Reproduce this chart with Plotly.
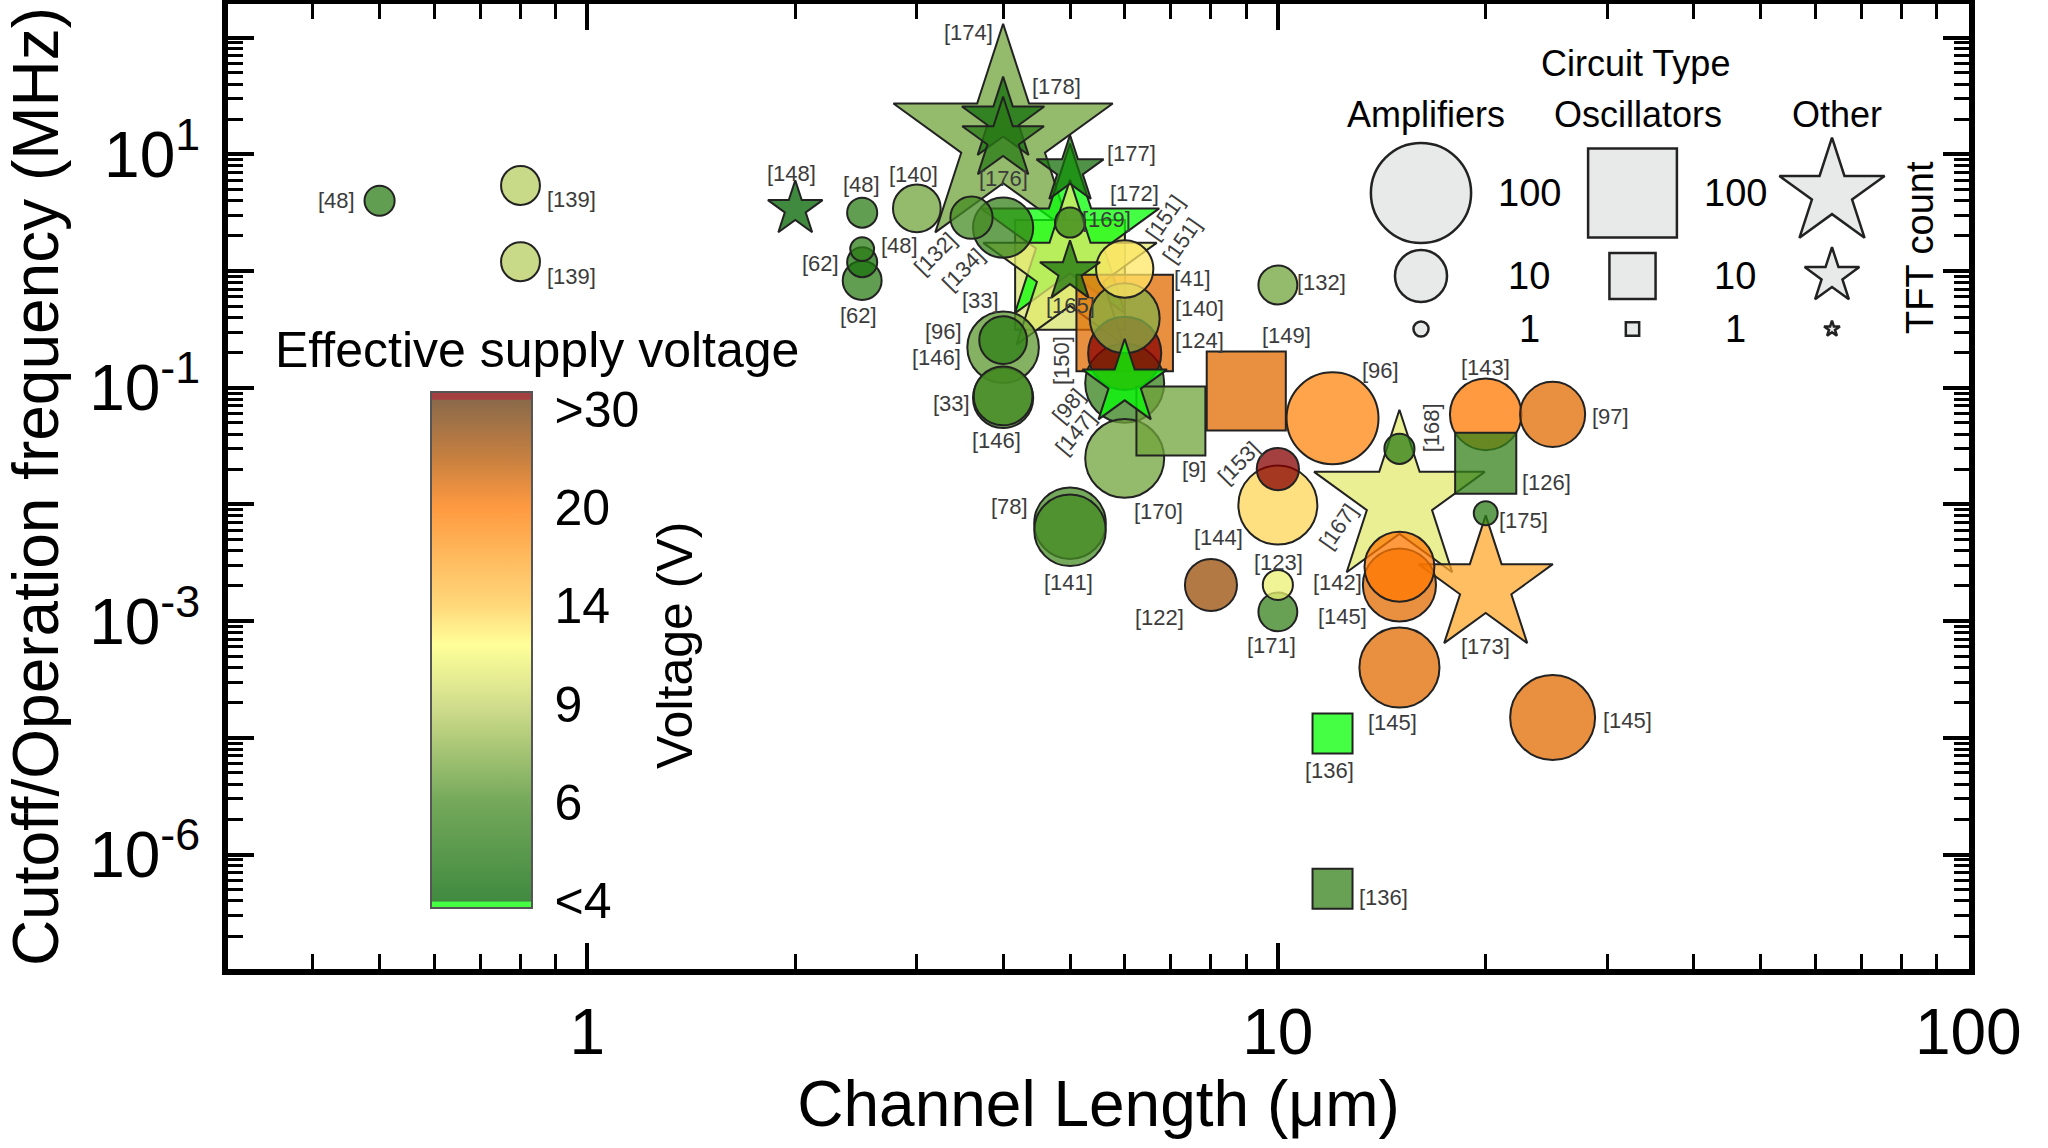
import numpy as np
import plotly.graph_objects as go

# ---------------- data ----------------
refs = ["[48]", "[139]", "[139]", "[148]", "[48]", "[48]", "[62]", "[62]", "[140]",
        "[174]", "[178]", "[176]", "[177]", "[172]", "[169]", "[132]", "[134]", "",
        "[165]", "[151]", "[140]", "[124]", "[150]", "[98]", "[147]", "[170]", "[9]",
        "[149]", "[96]", "[146]", "[33]", "[146]", "[78]", "[141]", "[122]", "[153]",
        "[144]", "[123]", "[171]", "[132]", "[96]", "[168]", "[167]", "[142]", "[145]",
        "[145]", "[136]", "[136]", "[143]", "[126]", "[97]", "[175]", "[173]", "[145]",
        ""]
channel_length_um = [0.5, 0.8, 0.8, 2.0, 2.5, 2.5, 2.5, 2.5, 3.0,
                     4.0, 4.0, 4.0, 5.0, 5.0, 5.0, 3.6, 4.0, 5.0,
                     5.0, 6.0, 6.0, 6.0, 6.0, 6.0, 6.0, 6.0, 7.0,
                     9.0, 4.0, 4.0, 4.0, 4.0, 5.0, 5.0, 8.0, 10.0,
                     10.0, 10.0, 10.0, 10.0, 12.0, 15.0, 15.0, 15.0, 15.0,
                     15.0, 12.0, 12.0, 20.0, 20.0, 25.0, 20.0, 20.0, 25.0,
                     5.0]
frequency_mhz = [4.0, 5.4, 1.2, 3.4, 3.16, 1.54, 1.19, 0.83, 3.44,
                 13.5, 19.7, 13.4, 7.3, 1.94, 2.6, 2.86, 2.35, 0.925,
                 0.98, 1.04, 0.394, 0.358, 0.197, 0.109, 0.109, 0.0248, 0.0519,
                 0.0938, 0.256, 0.222, 0.085, 0.0817, 0.0069, 0.006, 0.00204, 0.0201,
                 0.00988, 0.00204, 0.0012, 0.758, 0.0547, 0.0299, 0.011, 0.00292, 0.00204,
                 0.0004, 0.000109, 5.1e-6, 0.0591, 0.0225, 0.0591, 0.0084, 0.002, 0.000149,
                 1.0]
circuit_type = ["amp", "amp", "amp", "other", "amp", "amp", "amp", "amp", "amp",
                "other", "other", "other", "other", "other", "amp", "amp", "amp", "osc",
                "other", "amp", "amp", "osc", "amp", "amp", "other", "amp", "osc",
                "osc", "amp", "amp", "amp", "amp", "amp", "amp", "amp", "amp",
                "amp", "amp", "amp", "amp", "amp", "amp", "other", "amp", "amp",
                "amp", "osc", "osc", "amp", "osc", "amp", "amp", "other", "amp",
                "other"]
tft_count = [3, 5, 5, 10, 3, 2, 3, 5, 8,
             15000, 36, 35, 18, 2500, 3, 6, 15, 300,
             13, 13, 24, 150, 28, 37, 40, 37, 35,
             60, 8, 26, 14, 15, 26, 26, 10, 6,
             37, 3, 5, 5, 68, 3, 1780, 24, 28,
             39, 7, 7, 26, 23, 19, 2, 360, 49,
             2000]
voltage_v = [5.3, 8.7, 8.7, 4.0, 5.3, 5.3, 4.7, 5.3, 7,
             7, 4.5, 5.2, 4.6, 3, 5.5, 6, 5.5, 10,
             4.8, 13, 7.5, 22, 35, 5.5, 3, 7, 7,
             22, 5.3, 6.5, 6, 6, 6, 6, 27, 35,
             13.6, 11, 5.5, 7, 19, 5.3, 10.5, 20, 22,
             22, 3, 5.5, 20, 5.5, 22, 5.3, 16.5, 22,
             10.5]

# extra reference labels that sit next to an existing mark (anchor index)
extra_label_text = ["[33]", "[41]", "[151]"]
extra_label_anchor = [28, 21, 19]

# colour bar ticks
cbar_tick_volts = [4, 6, 9, 14, 20, 30]
cbar_tick_text = ["<4", "6", "9", "14", "20", ">30"]

# axis ticks
x_tick_vals = [1, 10, 100]
x_tick_text = ["1", "10", "100"]
y_tick_vals = [1e-6, 1e-5, 1e-4, 1e-3, 1e-2, 1e-1, 1e0, 1e1, 1e2]
y_tick_text = ["", "10<sup>-6</sup>", "", "10<sup>-3</sup>", "", "10<sup>-1</sup>", "",
               "10<sup>1</sup>", ""]

# size legend
legend_counts = [100, 10, 1]
legend_types = ["amp", "osc", "other"]
legend_headers = ["Amplifiers", "Oscillators", "Other"]

# ---------------- styling / geometry ----------------
FONT = "Arial, 'Liberation Sans', Helvetica, sans-serif"
W, H = 2048, 1148
PL, PR, PT, PB = 228, 1969, 4, 969
X_ONE_PX, X_DEC_PX = 587.7, 691.0
Y_TEN_PX, Y_DEC_PX = 154.3, 116.7
x_range = [(PL - X_ONE_PX) / X_DEC_PX, max((PR - X_ONE_PX) / X_DEC_PX, 2.001)]
y_range = [1 - (PB - Y_TEN_PX) / Y_DEC_PX, 1 - (PT - Y_TEN_PX) / Y_DEC_PX]

SYMBOL = {"amp": "circle", "osc": "square", "other": "star"}
SCALE = {"amp": 1.0, "osc": 0.886, "other": 0.789}
AREA = {"amp": 0.785, "osc": 0.785, "other": 0.342}


def diameter(n):
    return 50.0 * np.log10(1.0 + np.asarray(n, float))


V_ANCH = [4, 6, 9, 14, 20, 30]
T_ANCH = [0.014, 0.205, 0.395, 0.586, 0.776, 0.967]


def v2t(v):
    v = np.asarray(v, float)
    t = np.interp(v, V_ANCH, T_ANCH)
    t[v < 4] = 0.0
    t[v > 30] = 1.0
    return t


A = 0.75
colorscale = [
    [0.0, f"rgba(6,255,6,{A})"],
    [0.012, f"rgba(6,255,6,{A})"],
    [0.013, f"rgba(0,99,0,{A})"],
    [0.205, f"rgba(70,139,35,{A})"],
    [0.395, f"rgba(195,211,102,{A})"],
    [0.51, f"rgba(255,255,119,{A})"],
    [0.586, f"rgba(255,203,78,{A})"],
    [0.776, f"rgba(255,120,0,{A})"],
    [0.87, f"rgba(182,86,0,{A})"],
    [0.984, f"rgba(100,56,14,{A})"],
    [0.986, f"rgba(135,0,0,{A})"],
    [1.0, f"rgba(135,0,0,{A})"],
]

# label placement (pixel offsets from the mark, dy downward, angle)
label_dx = [-43, 51, 51, -4, -1, 37, -42, -4, -3,
            -35, 53, 0, 61, 64, 36, -36, -40, 0,
            0, 40, 75, 75, -63, -56, -49, 34, 23,
            40, -60, -67, -52, -7, -61, -2, -51, -39,
            -59, 1, -6, 44, 48, 32, -61, -62, -57,
            -7, -3, 51, 0, 61, 58, 38, 0, 75,
            0]
label_dy = [0, 14, 15, -35, -28, -4, 1, 35, -34,
            -107, -33, 39, -17, -44, -3, 36, 42, 0,
            33, -52, -10, 17, 7, 22, 49, 53, 49,
            -55, -9, 10, 8, 43, -17, 52, 33, -7,
            32, -22, 34, -3, -48, -21, 27, 16, 32,
            55, 37, 9, -47, 19, 2, 7, 61, 3,
            0]
label_angle = {15: -45, 16: -45, 19: -55, 22: -90, 23: -50, 24: -50, 35: -45, 41: -90, 42: -55}
extra_dx = [-23, 68, 57]
extra_dy = [-40, -45, -29]
extra_angle = [0, 0, -55]

# ---------------- build ----------------
xs = np.array(channel_length_um, float)
ys = np.array(frequency_mhz, float)
d = diameter(tft_count)
sizes = np.array([d[i] * SCALE[c] for i, c in enumerate(circuit_type)])
areas = np.array([AREA[c] * d[i] ** 2 for i, c in enumerate(circuit_type)])
order = np.argsort(-areas, kind="stable")
tvals = v2t(voltage_v)

fig = go.Figure()
fig.add_trace(go.Scatter(
    x=xs[order], y=ys[order], mode="markers", hoverinfo="skip", showlegend=False,
    marker=dict(
        symbol=[SYMBOL[circuit_type[i]] for i in order], opacity=1,
        size=sizes[order], color=tvals[order], colorscale=colorscale, cmin=0, cmax=1,
        line=dict(color="#222222", width=2), showscale=True,
        colorbar=dict(
            x=(431 - PL) / (PR - PL), xanchor="left",
            y=(PB - 650) / (PB - PT), yanchor="middle",
            lenmode="pixels", len=516, thicknessmode="pixels", thickness=101,
            xpad=0, ypad=0, outlinewidth=2, outlinecolor="#555555",
            tickmode="array", tickvals=list(v2t(cbar_tick_volts)), ticktext=cbar_tick_text,
            ticks="outside", ticklen=12, tickcolor="rgba(0,0,0,0)",
            tickfont=dict(size=50, color="black", family=FONT),
        ),
    ),
))

# size legend (in a pixel-based overlay axis)
LEG_COL_X = {"amp": 1421, "osc": 1632.5, "other": 1832}
LEG_ROW_Y = [193, 276, 329]
LEG_NUM_X = [1529, 1735]
for ct in legend_types:
    dd = diameter(legend_counts)
    fig.add_trace(go.Scatter(
        x=[LEG_COL_X[ct]] * len(legend_counts), y=LEG_ROW_Y, xaxis="x2", yaxis="y2",
        mode="markers", hoverinfo="skip", showlegend=False,
        marker=dict(symbol=SYMBOL[ct], size=dd * SCALE[ct], color="#e8e9e9", opacity=1,
                    line=dict(color="#222222", width=2.5)),
    ))

ann = []
lab_font = dict(size=22, color="#3c3c3c", family=FONT)
for i, r in enumerate(refs):
    if not r:
        continue
    ann.append(dict(x=np.log10(xs[i]), y=np.log10(ys[i]), xref="x", yref="y", text=r,
                    showarrow=False, xshift=label_dx[i], yshift=-label_dy[i],
                    textangle=label_angle.get(i, 0), font=lab_font))
for k, txt in enumerate(extra_label_text):
    i = extra_label_anchor[k]
    ann.append(dict(x=np.log10(xs[i]), y=np.log10(ys[i]), xref="x", yref="y", text=txt,
                    showarrow=False, xshift=extra_dx[k], yshift=-extra_dy[k],
                    textangle=extra_angle[k], font=lab_font))

big = dict(size=36, color="black", family=FONT)
ann.append(dict(x=1635, y=63, xref="x2", yref="y2", text="Circuit Type", showarrow=False, font=big))
for ct, hdr in zip(legend_types, legend_headers):
    ann.append(dict(x=LEG_COL_X[ct] + 5, y=114, xref="x2", yref="y2", text=hdr, showarrow=False, font=big))
for nx in LEG_NUM_X:
    for cnt, ry in zip(legend_counts, LEG_ROW_Y):
        ann.append(dict(x=nx, y=ry, xref="x2", yref="y2", text=str(cnt), showarrow=False,
                        font=dict(size=38, color="black", family=FONT)))
ann.append(dict(x=1920, y=248, xref="x2", yref="y2", text="TFT count", textangle=-90,
                showarrow=False, font=dict(size=38, color="black", family=FONT)))
ann.append(dict(x=537, y=350, xref="x2", yref="y2", text="Effective supply voltage",
                showarrow=False, font=dict(size=50, color="black", family=FONT)))
ann.append(dict(x=675, y=646, xref="x2", yref="y2", text="Voltage (V)", textangle=-90,
                showarrow=False, font=dict(size=50, color="black", family=FONT)))

x_minor = [k * 10.0 ** e for e in range(-1, 2) for k in range(2, 10) if 0.3 < k * 10.0 ** e < 100]
y_minor = [k * 10.0 ** e for e in range(-6, 3) for k in range(2, 10) if k * 10.0 ** e < 10 ** y_range[1]]

axis_common = dict(showline=True, linewidth=6, linecolor="black", mirror="ticks",
                   ticks="inside", tickwidth=4, tickcolor="black", showgrid=False,
                   zeroline=False, automargin=False, tickmode="array")

fig.update_layout(
    width=W, height=H,
    margin=dict(l=PL, r=W - PR, t=PT, b=H - PB, pad=0),
    paper_bgcolor="white", plot_bgcolor="white",
    font=dict(family=FONT, color="black"),
    xaxis=dict(type="log", range=x_range, tickvals=x_tick_vals, ticktext=x_tick_text,
               ticklen=26, tickfont=dict(size=64), ticklabelstandoff=2,
               minor=dict(tickmode="array", tickvals=x_minor, ticks="inside", ticklen=15,
                          tickwidth=3, tickcolor="black", showgrid=False),
               title=dict(text="Channel Length (μm)", font=dict(size=64), standoff=12),
               **axis_common),
    yaxis=dict(type="log", range=y_range, tickvals=y_tick_vals, ticktext=y_tick_text,
               ticklen=26, tickfont=dict(size=64), ticklabelstandoff=9,
               minor=dict(tickmode="array", tickvals=y_minor, ticks="inside", ticklen=15,
                          tickwidth=3, tickcolor="black", showgrid=False),
               title=dict(text="Cutoff/Operation frequency (MHz)", font=dict(size=64), standoff=35),
               **axis_common),
    xaxis2=dict(overlaying="x", range=[PL, PR], visible=False, fixedrange=True),
    yaxis2=dict(overlaying="y", range=[PB, PT], visible=False, fixedrange=True),
    annotations=ann,
)

fig.write_html("out.html", include_plotlyjs=True, config={"displayModeBar": False},
               post_script="document.body.style.margin='0px';")
